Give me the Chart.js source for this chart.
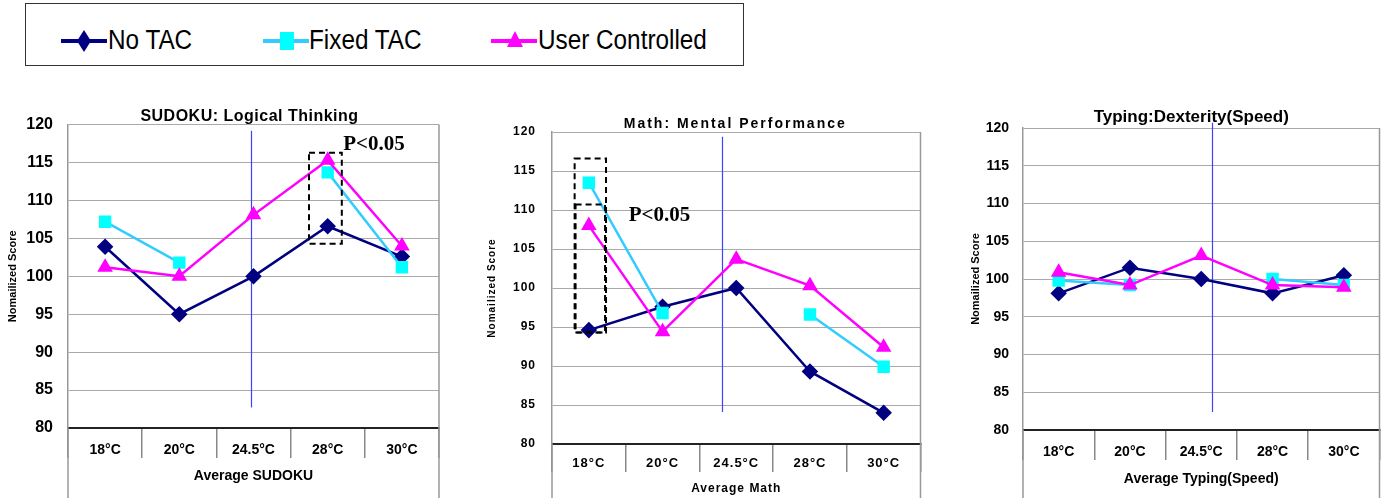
<!DOCTYPE html>
<html>
<head>
<meta charset="utf-8">
<script src="https://cdn.jsdelivr.net/npm/chart.js@4.4.1/dist/chart.umd.min.js"></script>
<style>
  body { margin: 0; background: #fff; width: 1389px; height: 498px; position: relative; overflow: hidden; font-family: "Liberation Sans", Arial, sans-serif; }
  .legend { position: absolute; left: 25px; top: 3px; width: 719px; height: 63px; border: 1px solid #333; box-sizing: border-box; }
  .item { position: absolute; top: 0; height: 63px; }
  .item svg { position: absolute; top: 17px; left: 0; }
  .item span { position: absolute; top: 20px; font-size: 27px; line-height: 32px; white-space: nowrap; transform: scaleX(0.9); transform-origin: left center; color: #000; }
  canvas { position: absolute; }
</style>
</head>
<body>
<div class="legend">
  <div class="item" style="left:35px">
    <svg width="48" height="40"><line x1="0" y1="20" x2="46" y2="20" stroke="#000080" stroke-width="4"/><polygon points="23,9 30,20 23,31 16,20" fill="#000080"/></svg>
    <span style="left:47px">No TAC</span>
  </div>
  <div class="item" style="left:237px">
    <svg width="48" height="40"><line x1="0" y1="20" x2="46" y2="20" stroke="#33ccff" stroke-width="4"/><rect x="17" y="11" width="14" height="18" fill="#00ffff"/></svg>
    <span style="left:46px">Fixed TAC</span>
  </div>
  <div class="item" style="left:465px">
    <svg width="48" height="40"><line x1="0" y1="20" x2="46" y2="20" stroke="#ff00ff" stroke-width="4"/><polygon points="24,10 32,26 16,26" fill="#ff00ff"/></svg>
    <span style="left:47px">User Controlled</span>
  </div>
</div>

<canvas id="sudoku" width="460" height="398" style="left:0px;top:100px"></canvas>
<canvas id="math" width="460" height="398" style="left:470px;top:100px"></canvas>
<canvas id="typing" width="459" height="398" style="left:930px;top:100px"></canvas>

<script>
const categories = ["18°C", "20°C", "24.5°C", "28°C", "30°C"];
const seriesNames = ["No TAC", "Fixed TAC", "User Controlled"];

const sudokuNoTac = [103.9, 95.0, 100.0, 106.6, 102.6];
const sudokuFixed = [107.2, 101.8, null, 113.7, 101.2];
const sudokuUser = [101.2, 100.0, 108.1, 115.3, 104.0];

const mathNoTac = [94.6, 97.6, 100.0, 89.3, 84.0];
const mathFixed = [113.5, 96.8, null, 96.6, 89.9];
const mathUser = [108.0, 94.4, 103.7, 100.3, 92.4];

const typingNoTac = [98.1, 101.5, 100.0, 98.1, 100.5];
const typingFixed = [99.8, 99.2, null, 100.0, 99.2];
const typingUser = [100.9, 99.2, 103.1, 99.2, 98.9];

const yMin = 80, yMax = 120, yStep = 5;

const FONT = "'Liberation Sans', Arial, sans-serif";

// frame, blue marker line, dashed boxes, P label and title
const extras = {
  id: "extras",
  beforeDatasetsDraw(chart, args, o) {
    const { ctx, scales: { x, y } } = chart;
    if (o.vline) {
      ctx.save();
      ctx.strokeStyle = "#4040ff";
      ctx.lineWidth = 1.2;
      const px = Math.round(x.getPixelForValue(o.vline.x)) + 0.5;
      ctx.beginPath();
      ctx.moveTo(px, y.getPixelForValue(o.vline.from));
      ctx.lineTo(px, y.getPixelForValue(o.vline.to));
      ctx.stroke();
      ctx.restore();
    }
  },
  afterDraw(chart, args, o) {
    const { ctx, chartArea: a, scales: { x, y } } = chart;
    ctx.save();
    // frame to the bottom of the canvas
    ctx.strokeStyle = "#999";
    ctx.lineWidth = 1.5;
    ctx.beginPath();
    ctx.moveTo(a.right, a.top);
    ctx.lineTo(a.right, chart.height);
    ctx.moveTo(a.left, a.bottom);
    ctx.lineTo(a.left, chart.height);
    ctx.stroke();

    // dashed boxes
    ctx.strokeStyle = "#000";
    ctx.lineWidth = 2;
    ctx.setLineDash([6, 4]);
    (o.boxes || []).forEach(b => {
      const x0 = x.getPixelForValue(b.x0), x1 = x.getPixelForValue(b.x1);
      const y0 = y.getPixelForValue(b.y0), y1 = y.getPixelForValue(b.y1);
      ctx.strokeRect(x0, y0, x1 - x0, y1 - y0);
    });
    ctx.setLineDash([]);

    if (o.label) {
      ctx.fillStyle = "#000";
      ctx.letterSpacing = "0px";
      ctx.font = "bold 21px 'Liberation Serif', 'Times New Roman', serif";
      ctx.textAlign = "left";
      ctx.textBaseline = "middle";
      ctx.fillText(o.label.text, x.getPixelForValue(o.label.x), y.getPixelForValue(o.label.y));
    }

    // chart title
    ctx.fillStyle = "#000";
    ctx.font = o.titleFont;
    ctx.letterSpacing = o.titleSpacing || "0px";
    ctx.textAlign = "center";
    ctx.textBaseline = "middle";
    ctx.fillText(o.title, (a.left + a.right) / 2 + o.titleDx, o.titleY);
    ctx.restore();
  }
};

const spacing = {
  id: "spacing",
  beforeDraw(chart, args, o) {
    chart.ctx.letterSpacing = o.px || "0px";
  }
};

function makeChart(id, noTac, fixed, user, cfg) {
  const datasets = [
    { label: seriesNames[0], data: noTac, borderColor: "#000080", backgroundColor: "#000080",
      pointStyle: "rectRot", pointRadius: 6.5, borderWidth: 2.5, order: 3 },
    { label: seriesNames[1], data: fixed, borderColor: "#33ccff", backgroundColor: "#00ffff",
      pointBackgroundColor: "#00ffff", pointBorderColor: "#00ffff",
      pointStyle: "rect", pointRadius: 7, borderWidth: 2.5, order: 2 },
    { label: seriesNames[2], data: user, borderColor: "#ff00ff", backgroundColor: "#ff00ff",
      pointStyle: "triangle", pointRadius: 6.5, borderWidth: 2.5, order: 1 }
  ];

  return new Chart(document.getElementById(id), {
    type: "line",
    data: { labels: categories, datasets },
    plugins: [extras, spacing],
    options: {
      responsive: false,
      animation: false,
      spanGaps: false,
      layout: { padding: { top: cfg.top, right: cfg.right, left: 0, bottom: 0 } },
      elements: { line: { tension: 0 } },
      plugins: {
        legend: { display: false },
        tooltip: { enabled: false },
        title: { display: false },
        spacing: { px: cfg.spacing },
        extras: {
          title: cfg.title, titleFont: cfg.titleFont, titleY: cfg.titleY, titleDx: cfg.titleDx,
          titleSpacing: cfg.titleSpacing,
          vline: cfg.vline, boxes: cfg.boxes, label: cfg.label
        }
      },
      scales: {
        x: {
          offset: true,
          afterFit: s => { s.height = cfg.xHeight; },
          grid: { offset: true, drawOnChartArea: false, drawTicks: true, tickLength: cfg.tickLength, color: "#888", lineWidth: 1.5 },
          border: { color: "#222", width: 2 },
          ticks: { padding: cfg.xPad, color: "#000", font: { family: FONT, size: cfg.xFont, weight: "bold" }, maxRotation: 0 },
          title: { display: true, text: cfg.xTitle, color: "#000",
                   font: { family: FONT, size: cfg.xTitleFont, weight: "bold" },
                   padding: { top: 0, bottom: cfg.xTitlePad } }
        },
        y: {
          min: yMin, max: yMax,
          afterFit: s => { s.width = cfg.yWidth; },
          grid: { color: "#aaa", drawTicks: false, lineWidth: 1 },
          border: { color: "#999", width: 1.5 },
          ticks: { stepSize: yStep, padding: cfg.yPad, color: "#000", font: { family: FONT, size: cfg.yFont, weight: "bold" } },
          title: { display: true, text: "Nomailized Score", color: "#000",
                   font: { family: FONT, size: cfg.yTitleFont, weight: "bold" },
                   padding: { top: cfg.yTitlePad, bottom: 0 } }
        }
      }
    }
  });
}

makeChart("sudoku", sudokuNoTac, sudokuFixed, sudokuUser, {
  top: 23, right: 21, yWidth: 68, xHeight: 70, tickLength: 30, xPad: -16,
  xFont: 14, yFont: 16, yPad: 15, yTitleFont: 11, yTitlePad: 6,
  xTitle: "Average SUDOKU", xTitleFont: 14, xTitlePad: 13,
  title: "SUDOKU: Logical Thinking", titleFont: "bold 16px " + FONT, titleY: 17, titleDx: -4, titleSpacing: "0.5px",
  vline: { x: 1.966, from: 119.2, to: 82.7 },
  boxes: [{ x0: 2.748, x1: 3.19, y0: 116.3, y1: 104.3 }],
  label: { text: "P<0.05", x: 3.21, y: 117.4 }
});

makeChart("math", mathNoTac, mathFixed, mathUser, {
  top: 32, right: 3, yWidth: 82, xHeight: 54, tickLength: 28, xPad: -16,
  xFont: 13, yFont: 12, yPad: 16, yTitleFont: 10, yTitlePad: 16, spacing: "1px",
  xTitle: "Average Math", xTitleFont: 12, xTitlePad: 2,
  title: "Math: Mental Performance", titleFont: "bold 14px " + FONT, titleY: 24, titleDx: -1, titleSpacing: "2px",
  vline: { x: 1.81, from: 119.4, to: 84.1 },
  boxes: [{ x0: -0.193, x1: 0.233, y0: 116.6, y1: 94.3 }, { x0: -0.18, x1: 0.22, y0: 110.7, y1: 94.3 }],
  label: { text: "P<0.05", x: 0.54, y: 109.3 }
});

makeChart("typing", typingNoTac, typingFixed, typingUser, {
  top: 28, right: 5, yWidth: 93, xHeight: 68, tickLength: 30, xPad: -16,
  xFont: 14, yFont: 14, yPad: 14, yTitleFont: 11, yTitlePad: 39,
  xTitle: "Average Typing(Speed)", xTitleFont: 14, xTitlePad: 10,
  title: "Typing:Dexterity(Speed)", titleFont: "bold 17px " + FONT, titleY: 17, titleDx: -10,
  vline: { x: 2.15, from: 120.7, to: 82.4 }
});
</script>
</body>
</html>
